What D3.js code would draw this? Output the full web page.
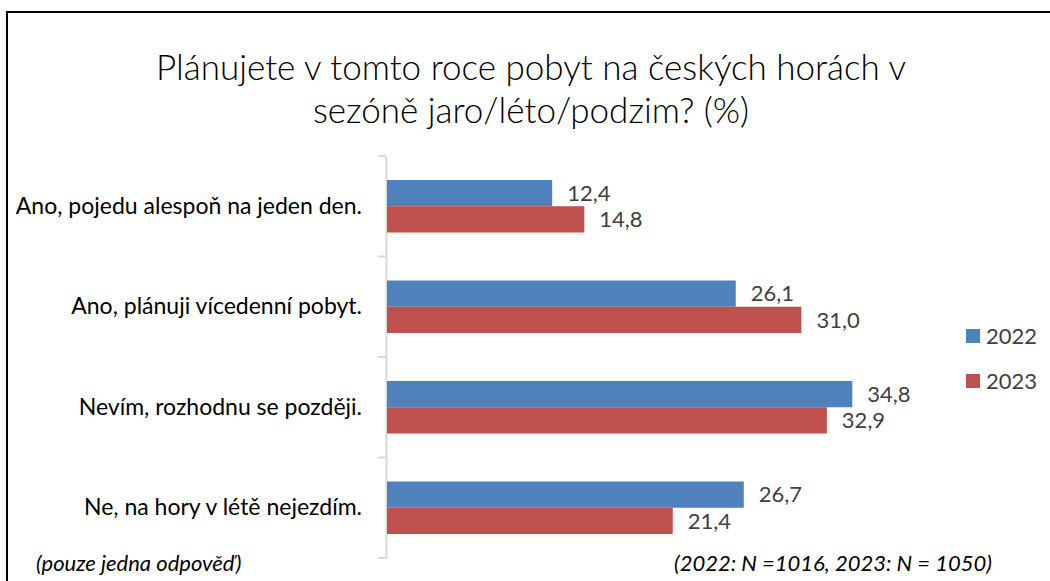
<!DOCTYPE html>
<html>
<head>
<meta charset="utf-8">
<script src="https://cdn.jsdelivr.net/npm/d3@7"></script>
<style>
body { margin: 0; background: #fff; }
svg { display: block; font-family: Lato, "Open Sans", sans-serif; }
</style>
</head>
<body>
<div id="graphic"></div>
<script>
var categories = [
	"Ano, pojedu alespoň na jeden den.",
	"Ano, plánuji vícedenní pobyt.",
	"Nevím, rozhodnu se později.",
	"Ne, na hory v létě nejezdím."
];
var series = ["2022", "2023"];
var values2022 = [12.4, 26.1, 34.8, 26.7];
var values2023 = [14.8, 31.0, 32.9, 21.4];
var colours = ["#4F81BD", "#C0504D"];
var titleLines = [
	"Plánujete v tomto roce pobyt na českých horách v",
	"sezóně jaro/léto/podzim? (%)"
];
var noteLeft = "(pouze jedna odpověď)";
var noteRight = "(2022: N =1016, 2023: N = 1050)";

var width = 1050, height = 581;
var fmt = function(v) { return d3.format(".1f")(v).replace(".", ","); };

var svg = d3.select("#graphic").append("svg")
	.attr("width", width)
	.attr("height", height);

// frame (only top and left visible in crop)
svg.append("path")
	.attr("d", "M7,590 V12 H1060")
	.attr("fill", "none")
	.attr("stroke", "#000")
	.attr("stroke-width", 2);

svg.selectAll(".title")
	.data(titleLines)
	.enter()
	.append("text")
	.attr("class", "title")
	.attr("x", 531)
	.attr("y", function(d, i) { return 80 + i * 43; })
	.attr("text-anchor", "middle")
	.style("font-size", "35px")
	.style("font-weight", 300)
	.attr("fill", "#000")
	.text(function(d) { return d; });

var x = d3.scaleLinear().domain([0, 40]).range([386, 922]);
var y = d3.scaleBand().domain(categories).range([156, 558]);
var inner = d3.scaleBand().domain(series).range([24, y.bandwidth() - 24]);

var yAxis = svg.append("g")
	.attr("transform", "translate(386,0)")
	.call(d3.axisLeft(y).tickSize(0).tickPadding(24));
yAxis.select(".domain").attr("stroke", "#d9d9d9").attr("stroke-width", 2);
yAxis.selectAll("text")
	.style("font-size", "23px")
	.style("font-family", "Lato, sans-serif")
	.attr("fill", "#000");

// category boundary ticks
var bounds = categories.map(function(c) { return y(c); }).concat([y.range()[1]]);
svg.selectAll(".bt")
	.data(bounds)
	.enter()
	.append("line")
	.attr("x1", 378).attr("x2", 386)
	.attr("y1", function(d) { return d; })
	.attr("y2", function(d) { return d; })
	.attr("stroke", "#d9d9d9")
	.attr("stroke-width", 2);

var rows = [];
categories.forEach(function(c, i) {
	rows.push({ cat: c, s: 0, v: values2022[i] });
	rows.push({ cat: c, s: 1, v: values2023[i] });
});

svg.selectAll(".bar")
	.data(rows)
	.enter()
	.append("rect")
	.attr("x", x(0) + 1)
	.attr("y", function(d) { return y(d.cat) + inner(series[d.s]); })
	.attr("width", function(d) { return x(d.v) - x(0) - 1; })
	.attr("height", inner.bandwidth())
	.attr("fill", function(d) { return colours[d.s]; });

svg.selectAll(".lbl")
	.data(rows)
	.enter()
	.append("text")
	.attr("x", function(d) { return x(d.v) + 15; })
	.attr("y", function(d) { return y(d.cat) + inner(series[d.s]) + inner.bandwidth() / 2; })
	.attr("dy", "0.35em")
	.style("font-size", "22px")
	.attr("fill", "#404040")
	.text(function(d) { return fmt(d.v); });

var legend = svg.selectAll(".leg")
	.data(series)
	.enter()
	.append("g")
	.attr("transform", function(d, i) { return "translate(966," + (336 + i * 45) + ")"; });
legend.append("rect")
	.attr("x", 0).attr("y", -7)
	.attr("width", 14).attr("height", 14)
	.attr("fill", function(d, i) { return colours[i]; });
legend.append("text")
	.attr("x", 20)
	.attr("dy", "0.35em")
	.style("font-size", "22px")
	.attr("fill", "#404040")
	.text(function(d) { return d; });

svg.append("text")
	.attr("x", 36).attr("y", 571)
	.style("font-size", "22px")
	.style("font-style", "italic")
	.attr("fill", "#000")
	.text(noteLeft);
svg.append("text")
	.attr("x", 992).attr("y", 571)
	.attr("text-anchor", "end")
	.style("font-size", "22px")
	.style("font-style", "italic")
	.attr("fill", "#000")
	.text(noteRight);
</script>
</body>
</html>
